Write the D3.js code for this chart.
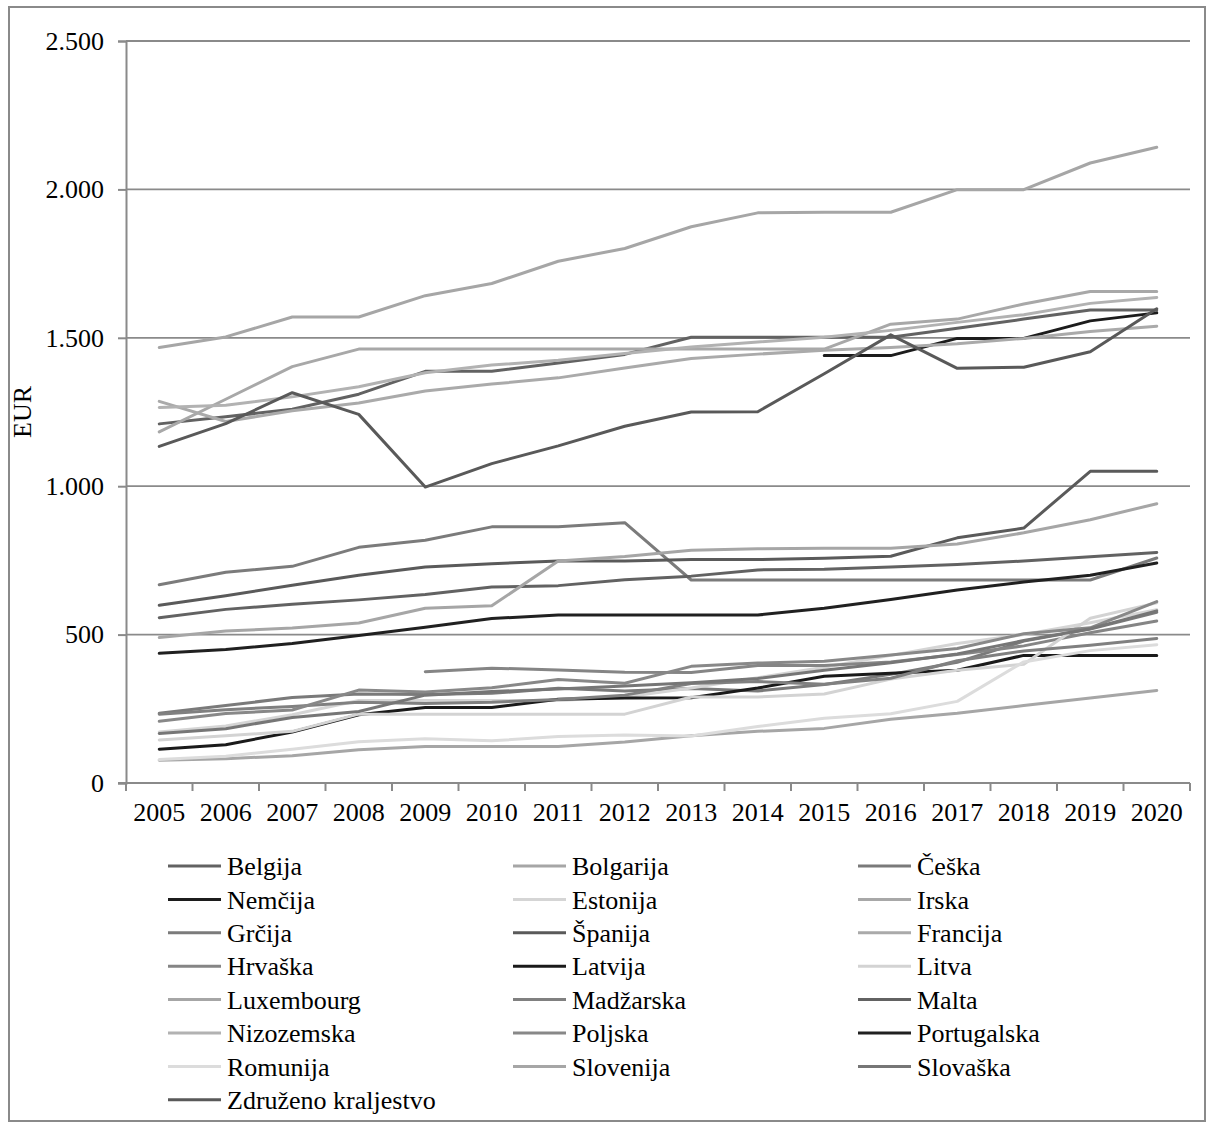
<!DOCTYPE html>
<html>
<head>
<meta charset="utf-8">
<script src="https://cdn.jsdelivr.net/npm/d3@7"></script>
<style>
  html, body { margin: 0; padding: 0; background: #fff; }
  svg { display: block; font-family: "Liberation Serif", "Times New Roman", serif; }
</style>
</head>
<body>
<svg id="chart" width="1214" height="1129"></svg>
<script>
// Monthly minimum wage, EUR, 2005–2020
const years = ["2005","2006","2007","2008","2009","2010","2011","2012","2013","2014","2015","2016","2017","2018","2019","2020"];
const yTicks = [0, 500, 1000, 1500, 2000, 2500];

const countries = ["Belgija","Bolgarija","Češka","Nemčija","Estonija","Irska","Grčija","Španija","Francija","Hrvaška","Latvija","Litva","Luxembourg","Madžarska","Malta","Nizozemska","Poljska","Portugalska","Romunija","Slovenija","Slovaška","Združeno kraljestvo"];

const belgija     = [1210,1234,1259,1310,1387,1387,1415,1444,1502,1502,1502,1502,1532,1563,1594,1594];
const bolgarija   = [77,82,92,112,123,123,123,138,159,174,184,215,235,261,286,312];
const ceska       = [235,261,288,300,298,302,319,310,318,310,332,366,407,478,519,575];
const nemcija     = [null,null,null,null,null,null,null,null,null,null,1440,1440,1498,1498,1557,1584];
const estonija    = [172,192,230,278,278,278,278,290,320,355,390,430,470,500,540,584];
const irska       = [1183,1293,1403,1462,1462,1462,1462,1462,1462,1462,1462,1546,1563,1614,1656,1656];
const grcija      = [668,710,730,794,818,863,863,877,684,684,684,684,684,684,684,758];
const spanija     = [599,631,666,700,728,739,748,748,753,753,757,764,826,859,1050,1050];
const francija    = [1286,1218,1254,1280,1321,1344,1365,1398,1430,1445,1458,1467,1480,1498,1521,1539];
const hrvaska     = [null,null,null,null,375,387,381,373,372,396,396,408,433,462,506,546];
const latvija     = [114,129,172,230,254,254,282,286,287,320,360,370,380,430,430,430];
const litva       = [145,159,174,232,232,232,232,232,290,290,300,350,380,400,555,607];
const luxembourg  = [1467,1503,1570,1570,1642,1683,1758,1801,1874,1921,1923,1923,1999,1999,2089,2142];
const madzarska   = [232,247,258,272,268,272,281,296,335,342,333,353,412,445,464,487];
const malta       = [557,585,602,617,635,660,665,685,697,718,720,728,736,748,762,777];
const nizozemska  = [1265,1273,1301,1335,1382,1408,1424,1447,1469,1486,1502,1525,1552,1578,1616,1636];
const poljska     = [208,234,246,313,307,321,349,336,393,404,410,431,453,503,523,611];
const portugalska = [437,450,470,497,525,554,566,566,566,566,589,618,650,677,700,741];
const romunija    = [79,90,114,139,149,142,157,162,158,190,218,233,275,408,446,466];
const slovenija   = [490,512,522,539,589,597,748,763,784,789,791,791,805,843,887,941];
const slovaska    = [167,183,221,241,296,308,317,327,338,352,380,405,435,480,520,580];
const zdruzeno    = [1134,1211,1315,1242,997,1076,1136,1202,1250,1251,1379,1510,1397,1401,1453,1598];

const seriesValues = [belgija,bolgarija,ceska,nemcija,estonija,irska,grcija,spanija,francija,hrvaska,latvija,litva,luxembourg,madzarska,malta,nizozemska,poljska,portugalska,romunija,slovenija,slovaska,zdruzeno];

const greys = ["#626262","#a6a6a6","#7a7a7a","#1c1c1c","#d5d5d5","#a8a8a8","#7b7b7b","#5a5a5a","#aaaaaa","#858585","#1a1a1a","#d3d3d3","#a6a6a6","#808080","#626262","#b2b2b2","#888888","#202020","#dcdcdc","#a6a6a6","#767676","#595959"];

const series = countries.map((name, i) => ({
  name,
  color: greys[i],
  values: seriesValues[i].map((v, j) => ({ year: years[j], value: v }))
}));

const svg = d3.select("#chart");
const W = 1214, H = 1129;
const plot = { left: 126, right: 1190, top: 41, bottom: 783 };
const axisGrey = "#8a8a8a";
const fontSize = 26;

// outer frame
svg.append("rect")
  .attr("x", 9).attr("y", 7)
  .attr("width", 1196).attr("height", 1114)
  .attr("fill", "none").attr("stroke", axisGrey).attr("stroke-width", 2);

const x = d3.scaleBand().domain(years).range([plot.left, plot.right]).padding(0);
const y = d3.scaleLinear().domain([0, 2500]).range([plot.bottom, plot.top]);

// horizontal gridlines
svg.append("g").selectAll("line")
  .data(yTicks.filter(t => t > 0))
  .join("line")
  .attr("x1", plot.left).attr("x2", plot.right)
  .attr("y1", d => y(d)).attr("y2", d => y(d))
  .attr("stroke", axisGrey).attr("stroke-width", 1.8);

// y axis
const yAxis = d3.axisLeft(y)
  .tickValues(yTicks)
  .tickSize(8)
  .tickPadding(14)
  .tickFormat(d => d3.format(",")(d).replace(/,/g, "."));
const gy = svg.append("g").attr("transform", `translate(${plot.left},0)`).call(yAxis);
gy.select(".domain").attr("stroke", axisGrey).attr("stroke-width", 2);
gy.selectAll(".tick line").attr("stroke", axisGrey).attr("stroke-width", 2);
gy.selectAll("text")
  .attr("font-family", "Liberation Serif, Times New Roman, serif")
  .attr("font-size", fontSize).attr("fill", "#000");

// x axis: ticks on category boundaries, labels centred in each band
const gx = svg.append("g").attr("transform", `translate(0,${plot.bottom})`);
gx.append("line")
  .attr("x1", plot.left - 8).attr("x2", plot.right)
  .attr("y1", 0).attr("y2", 0)
  .attr("stroke", axisGrey).attr("stroke-width", 2);
const boundaries = years.map(yr => x(yr)).concat([x(years[years.length - 1]) + x.bandwidth()]);
gx.selectAll("line.tk").data(boundaries).join("line")
  .attr("class", "tk")
  .attr("x1", d => d).attr("x2", d => d)
  .attr("y1", 0).attr("y2", 8)
  .attr("stroke", axisGrey).attr("stroke-width", 2);
gx.selectAll("text").data(years).join("text")
  .attr("x", d => x(d) + x.bandwidth() / 2)
  .attr("y", 38)
  .attr("text-anchor", "middle")
  .attr("font-size", fontSize).attr("fill", "#000")
  .text(d => d);

// y axis title
svg.append("text")
  .attr("transform", `translate(31,${(plot.top + plot.bottom) / 2}) rotate(-90)`)
  .attr("text-anchor", "middle")
  .attr("font-size", fontSize).attr("fill", "#000")
  .text("EUR");

// series lines
const line = d3.line()
  .defined(d => d.value != null)
  .x(d => x(d.year) + x.bandwidth() / 2)
  .y(d => y(d.value));

svg.append("g").selectAll("path")
  .data(series)
  .join("path")
  .attr("d", d => line(d.values))
  .attr("fill", "none")
  .attr("stroke", d => d.color)
  .attr("stroke-width", 3)
  .attr("stroke-linejoin", "round")
  .attr("stroke-linecap", "round");

// legend, three columns, row-major
const legendCols = [168, 513, 858];
const legendTop = 866, legendStep = 33.4;
const lg = svg.append("g").selectAll("g")
  .data(series)
  .join("g")
  .attr("transform", (d, i) => `translate(${legendCols[i % 3]},${legendTop + Math.floor(i / 3) * legendStep})`);
lg.append("line")
  .attr("x1", 0).attr("x2", 53).attr("y1", 0).attr("y2", 0)
  .attr("stroke", d => d.color).attr("stroke-width", 3);
lg.append("text")
  .attr("x", 59).attr("y", 0).attr("dy", "0.35em")
  .attr("font-size", fontSize).attr("fill", "#000")
  .text(d => d.name);
</script>
</body>
</html>
